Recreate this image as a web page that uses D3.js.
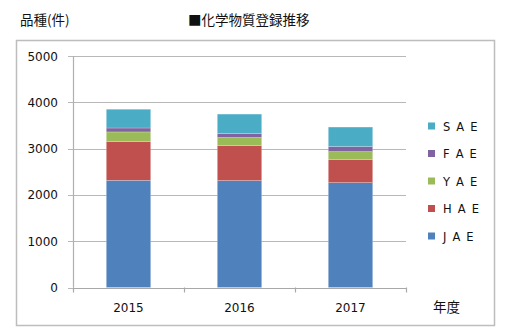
<!DOCTYPE html>
<html><head><meta charset="utf-8">
<script src="https://cdn.jsdelivr.net/npm/d3@7"></script>
<style>
html,body{margin:0;padding:0;background:#fff;}
svg{display:block;}
</style></head>
<body>
<svg id="chart" width="508" height="332"></svg>
<script>
// Registered chemical substances per fiscal year, stacked by type
const years = ["2015", "2016", "2017"];
const legendLabels = ["J A E", "H A E", "Y A E", "F A E", "S A E"];
const JAE = [2315, 2310, 2265];
const HAE = [835, 755, 495];
const YAE = [210, 175, 175];
const FAE = [85, 85, 110];
const SAE = [405, 420, 420];
const yTicks = [0, 1000, 2000, 3000, 4000, 5000];
const colors = ["#4F81BD", "#C0504D", "#9BBB59", "#8064A2", "#4BACC6"];

const rows = years.map((yr, i) => ({
  year: yr, s0: JAE[i], s1: HAE[i], s2: YAE[i], s3: FAE[i], s4: SAE[i]
}));
const keys = ["s0", "s1", "s2", "s3", "s4"];
const stacked = d3.stack().keys(keys)(rows);

const svg = d3.select("#chart");
const font = "Verdana, 'DejaVu Sans', sans-serif";
const cjk = "'Noto Sans CJK JP', sans-serif";

// outer frame
svg.append("rect").attr("x", 16.5).attr("y", 40.5).attr("width", 478).attr("height", 285)
  .attr("fill", "#fff").attr("stroke", "#bdbdbd").attr("stroke-width", 1.5);

// headings
svg.append("text").attr("x", 20).attr("y", 25).attr("font-family", cjk)
  .attr("font-size", 13.5).attr("fill", "#111").text("品種(件)");
svg.append("text").attr("x", 188).attr("y", 25).attr("font-family", cjk)
  .attr("font-size", 13.5).attr("fill", "#111").text("■化学物質登録推移");

const plotL = 73, plotR = 406, plotT = 56, plotB = 287.5;
const x = d3.scaleBand().domain(years).range([plotL, plotR]).paddingInner(0.6).paddingOuter(0.3);
const xOuter = d3.scaleBand().domain(years).range([plotL, plotR]);
const y = d3.scaleLinear().domain([0, 5000]).range([plotB, plotT]);

// horizontal gridlines
svg.append("g").selectAll("line").data(yTicks).join("line")
  .attr("x1", plotL - 5).attr("x2", plotR)
  .attr("y1", d => Math.round(y(d)) + 0.5).attr("y2", d => Math.round(y(d)) + 0.5)
  .attr("stroke", "#b8b8b8").attr("stroke-width", 1.2);

// y axis line
svg.append("line").attr("x1", plotL + 0.5).attr("x2", plotL + 0.5)
  .attr("y1", y(5000)).attr("y2", y(0)).attr("stroke", "#b0b0b0").attr("stroke-width", 1.2);

// y tick labels
svg.append("g").selectAll("text").data(yTicks).join("text")
  .attr("x", 58).attr("y", d => y(d) + 4.5).attr("text-anchor", "end")
  .attr("font-family", font).attr("font-size", 12).attr("fill", "#111").text(d => d);

// stacked bars
svg.append("g").selectAll("g").data(stacked).join("g")
  .attr("fill", (d, i) => colors[i])
  .selectAll("rect").data(d => d).join("rect")
  .attr("x", d => x(d.data.year))
  .attr("width", x.bandwidth())
  .attr("y", d => y(d[1]))
  .attr("height", d => y(d[0]) - y(d[1]))
  .attr("stroke", "rgba(255,255,255,0.35)").attr("stroke-width", 0.6);

// x axis line and ticks
svg.append("line").attr("x1", plotL).attr("x2", plotR)
  .attr("y1", Math.round(plotB) + 0.5).attr("y2", Math.round(plotB) + 0.5)
  .attr("stroke", "#a8a8a8").attr("stroke-width", 1.2);
const xTickPos = [plotL].concat(years.map(d => xOuter(d) + xOuter.bandwidth()));
svg.append("g").selectAll("line").data(xTickPos).join("line")
  .attr("x1", d => d + 0.5).attr("x2", d => d + 0.5)
  .attr("y1", plotB).attr("y2", plotB + 5)
  .attr("stroke", "#a8a8a8").attr("stroke-width", 1.2);

// x labels
svg.append("g").selectAll("text").data(years).join("text")
  .attr("x", d => x(d) + x.bandwidth() / 2).attr("y", 312).attr("text-anchor", "middle")
  .attr("font-family", font).attr("font-size", 12).attr("fill", "#111").text(d => d);
svg.append("text").attr("x", 433).attr("y", 312).attr("font-family", cjk)
  .attr("font-size", 13.5).attr("fill", "#111").text("年度");

// legend (top entry = last series)
const legendOrder = [4, 3, 2, 1, 0];
const lg = svg.append("g").selectAll("g").data(legendOrder).join("g")
  .attr("transform", (d, i) => `translate(428, ${126 + i * 27.5})`);
lg.append("rect").attr("x", 0).attr("y", -3.5).attr("width", 7).attr("height", 7)
  .attr("fill", d => colors[d]);
lg.append("text").attr("x", 15).attr("y", 4.5).attr("font-family", font)
  .attr("font-size", 11.5).attr("fill", "#111").attr("letter-spacing", 1.2)
  .text(d => legendLabels[d]);
</script>
</body></html>
